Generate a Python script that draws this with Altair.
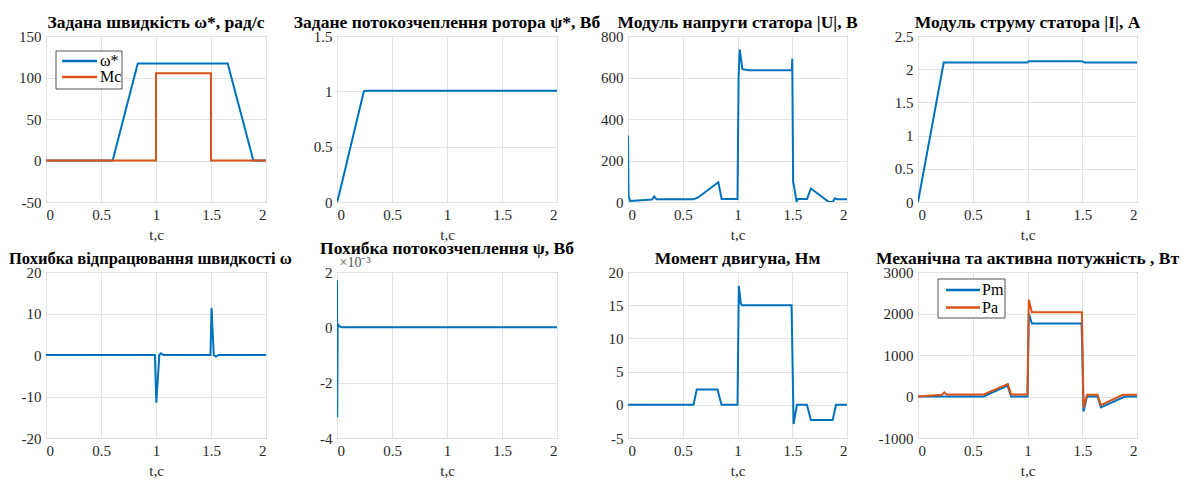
import altair as alt
import pandas as pd

FONT = "Liberation Serif"
BLUE = "#0072BD"
ORANGE = "#D95319"

# ---------------- data ----------------
# 1. reference speed and load torque
t_w = [0, 0.606, 0.834, 1.652, 1.885, 2.0]
w_ref = [0, 0, 117, 117, 0, 0]
t_mc = [0, 1.0, 1.0, 1.5, 1.5, 2.0]
mc = [0, 0, 105, 105, 0, 0]

# 2. reference rotor flux
t_psi = [0, 0.02, 0.244, 0.26, 2.0]
psi_ref = [0, 0.07, 1.0, 1.005, 1.005]

# 3. stator voltage modulus
t_u = [0, 0.005, 0.02, 0.22, 0.24, 0.26, 0.60, 0.64, 0.825, 0.855, 1.0, 1.01, 1.02,
       1.045, 1.1, 1.497, 1.5, 1.508, 1.54, 1.55, 1.635, 1.67, 1.835, 1.87, 1.89, 1.91, 2.0]
u = [320, 30, 5, 12, 27, 13, 13, 22, 95, 15, 15, 600, 735,
     640, 635, 635, 690, 100, 0, 15, 15, 65, 0, 0, 18, 13, 13]

# 4. stator current modulus
t_i = [0, 0.235, 0.25, 1.0, 1.01, 1.5, 1.52, 2.0]
i_s = [0, 2.1, 2.1, 2.1, 2.12, 2.12, 2.1, 2.1]

# 5. speed error
t_e = [0, 0.99, 1.003, 1.03, 1.045, 1.07, 1.495, 1.505, 1.525, 1.545, 1.57, 2.0]
e_w = [0, 0, -11.5, 0, 0.4, 0, 0, 11.4, 0, -0.4, 0, 0]

# 6. flux error (x 1e-3)
t_ep = [0, 0.001, 0.002, 0.006, 0.02, 0.04, 2.0]
e_psi = [0, 1.7, -3.25, 0.12, 0.05, 0, 0]

# 7. motor torque
t_m = [0, 0.598, 0.628, 0.817, 0.854, 1.0, 1.012, 1.03, 1.04, 1.494, 1.512, 1.543,
       1.634, 1.67, 1.869, 1.9, 2.0]
m = [0, 0, 2.3, 2.3, 0, 0, 17.9, 15.3, 15, 15, -2.9, 0, 0, -2.3, -2.3, 0, 0]

# 8. mechanical and active power
t_pm = [0, 0.6, 0.818, 0.85, 1.0, 1.012, 1.04, 1.494, 1.512, 1.543, 1.64, 1.67, 1.89, 2.0]
pm = [0, 0, 265, 0, 0, 2000, 1760, 1760, -360, 0, 0, -260, 0, 0]
t_pa = [0, 0.22, 0.24, 0.26, 0.6, 0.82, 0.85, 1.0, 1.012, 1.04, 1.497, 1.512, 1.543,
        1.64, 1.67, 1.87, 2.0]
pa = [0, 40, 100, 50, 50, 300, 50, 50, 2330, 2030, 2030, -270, 40, 40, -210, 40, 40]

x_ticks = [0, 0.5, 1, 1.5, 2]

LABEL_EXPR = "toString(datum.value)"
FS = 15
TFS = 17.5
AXIS_STYLE = dict(labelFont=FONT, labelFontSize=FS, labelColor="#262626",
                  titleFont=FONT, titleFontSize=FS, titleFontWeight="normal",
                  titleColor="#262626", gridColor="#e3e3e3", domain=False,
                  ticks=False, labelPadding=5, titlePadding=5, labelExpr=LABEL_EXPR)


def frame(series):
    rows = []
    for name, ts, vs in series:
        for k, (tt, vv) in enumerate(zip(ts, vs)):
            rows.append({"t": tt, "v": vv, "s": name, "o": k})
    return pd.DataFrame(rows)


def legend_layers(names, colors, box, line_x, text_x, rows_y):
    """Box-style legend drawn inside the plot area (pixel placement)."""
    bx0, bx1, by0, by1 = box
    one = pd.DataFrame({"k": [0]})
    out = [alt.Chart(one).mark_rect(fill="white", stroke="#262626", strokeWidth=0.8).encode(
        x=alt.value(bx0), x2=alt.value(bx1), y=alt.value(by0), y2=alt.value(by1))]
    for name, col, yy in zip(names, colors, rows_y):
        out.append(alt.Chart(one).mark_rule(color=col, strokeWidth=2.5).encode(
            x=alt.value(line_x[0]), x2=alt.value(line_x[1]), y=alt.value(yy)))
        out.append(alt.Chart(pd.DataFrame({"label": [name]})).mark_text(
            align="left", baseline="middle", font=FONT, fontSize=16, color="#000000").encode(
            x=alt.value(text_x), y=alt.value(yy), text="label:N"))
    return out


def panel(series, title, ydom, yticks, w, legend=None, ytitle=None, title_shift=None,
          title_size=TFS):
    df = frame(series)
    x = alt.X("t:Q", scale=alt.Scale(domain=[0, 2], nice=False, zero=False),
              axis=alt.Axis(values=x_ticks, title="t,c", **AXIS_STYLE))
    ykw = dict(AXIS_STYLE)
    ykw.update(values=yticks, title=None)
    if ytitle:
        ykw.update(title=ytitle, titleAngle=0, titleX=2, titleY=-3,
                   titleAlign="left", titleBaseline="bottom", titleFontSize=14,
                   titleColor="#555555")
    y = alt.Y("v:Q", scale=alt.Scale(domain=ydom, nice=False, zero=False),
              axis=alt.Axis(**ykw))
    names = [s[0] for s in series]
    lines = alt.Chart(df).mark_line(strokeWidth=2, clip=True).encode(
        x=x, y=y, order="o:Q",
        color=alt.Color("s:N", scale=alt.Scale(domain=names, range=[BLUE, ORANGE][:len(names)]),
                        legend=None))
    layers = [lines]
    if legend is not None:
        layers += legend_layers(names, [BLUE, ORANGE], **legend)
    tkw = dict(font=FONT, fontSize=title_size, fontWeight="bold", color="#000000",
               offset=3, dy=5, frame="group")
    if title_shift is not None:
        tkw.update(anchor="start", dx=title_shift)
    ch = alt.layer(*layers, title=alt.Title(title, **tkw))
    return ch.properties(width=w, height=166)


p1 = panel([("ω*", t_w, w_ref), ("Mc", t_mc, mc)], "Задана швидкість ω*, рад/с",
           [-50, 150], [-50, 0, 50, 100, 150], 220,
           legend=dict(box=(10, 76, 15, 53), line_x=(16, 51), text_x=54, rows_y=(25, 41)))
p2 = panel([("psi", t_psi, psi_ref)], "Задане потокозчеплення ротора ψ*, Вб",
           [0, 1.5], [0, 0.5, 1, 1.5], 220)
p3 = panel([("u", t_u, u)], "Модуль напруги статора |U|, В",
           [0, 800], [0, 200, 400, 600, 800], 219)
p4 = panel([("i", t_i, i_s)], "Модуль струму статора |I|, А",
           [0, 2.5], [0, 0.5, 1, 1.5, 2, 2.5], 219)
p5 = panel([("e", t_e, e_w)], "Похибка відпрацювання швидкості ω",
           [-20, 20], [-20, -10, 0, 10, 20], 220, title_shift=-37, title_size=16.5)
p6 = panel([("ep", t_ep, e_psi)], "Похибка потокозчеплення ψ, Вб",
           [-4, 2], [-4, -2, 0, 2], 220, ytitle="×10⁻³")
p7 = panel([("m", t_m, m)], "Момент двигуна, Нм",
           [-5, 20], [-5, 0, 5, 10, 15, 20], 219)
p8 = panel([("Pm", t_pm, pm), ("Pa", t_pa, pa)], "Механічна та активна потужність , Вт",
           [-1000, 3000], [-1000, 0, 1000, 2000, 3000], 219,
           legend=dict(box=(20, 87, 7, 46), line_x=(28, 62), text_x=64, rows_y=(18, 35.5)))

chart = alt.concat(
    p1, p2, p3, p4, p5, p6, p7, p8, columns=4,
    spacing=alt.RowColnumber(row=70, column=71), bounds="flush"
).resolve_scale(
    color="independent", x="independent", y="independent"
).properties(
    padding={"left": 0, "top": 5, "right": 0, "bottom": 0}, background="white"
).configure(font=FONT).configure_view(stroke="#5a5a5a", strokeWidth=1)

chart.save("out.html", embed_options={"renderer": "svg", "actions": False})
